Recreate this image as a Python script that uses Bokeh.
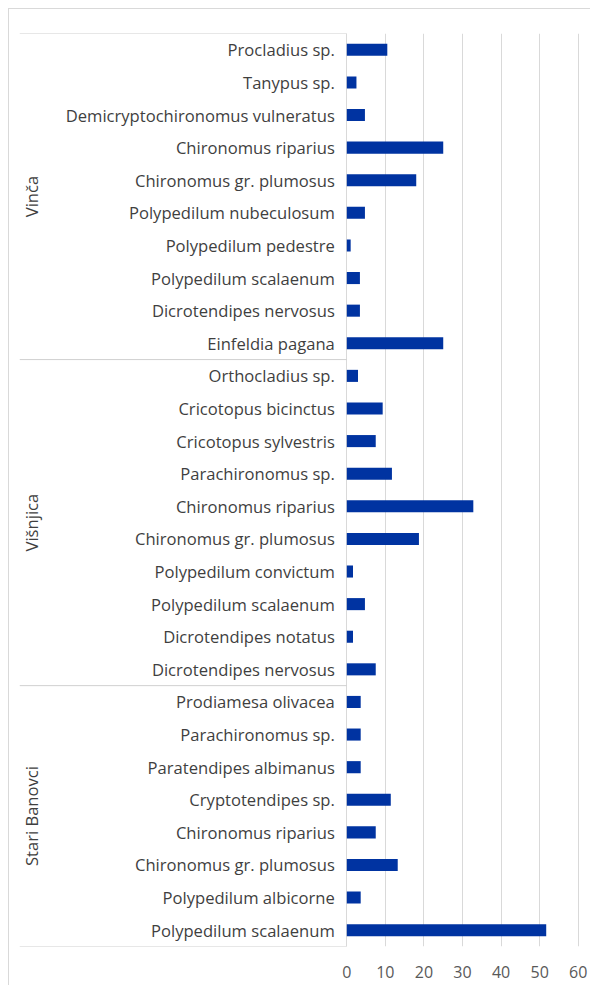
from bokeh.plotting import figure
from bokeh.models import FactorRange, Range1d, FixedTicker, ColumnDataSource
from bokeh.core.properties import value
from bokeh.embed import file_html
from bokeh.resources import INLINE
import math

# ---- data (top-to-bottom reading order) ----
sites = ["Vinča", "Višnjica", "Stari Banovci"]

vinca_species = ["Procladius sp.", "Tanypus sp.", "Demicryptochironomus vulneratus",
                 "Chironomus riparius", "Chironomus gr. plumosus", "Polypedilum nubeculosum",
                 "Polypedilum pedestre", "Polypedilum scalaenum", "Dicrotendipes nervosus",
                 "Einfeldia pagana"]
vinca_values = [10.5, 2.5, 4.7, 25, 18, 4.7, 1, 3.4, 3.4, 25]

visnjica_species = ["Orthocladius sp.", "Cricotopus bicinctus", "Cricotopus sylvestris",
                    "Parachironomus sp.", "Chironomus riparius", "Chironomus gr. plumosus",
                    "Polypedilum convictum", "Polypedilum scalaenum", "Dicrotendipes notatus",
                    "Dicrotendipes nervosus"]
visnjica_values = [2.9, 9.3, 7.5, 11.7, 32.8, 18.7, 1.6, 4.7, 1.6, 7.5]

banovci_species = ["Prodiamesa olivacea", "Parachironomus sp.", "Paratendipes albimanus",
                   "Cryptotendipes sp.", "Chironomus riparius", "Chironomus gr. plumosus",
                   "Polypedilum albicorne", "Polypedilum scalaenum"]
banovci_values = [3.6, 3.6, 3.6, 11.4, 7.5, 13.2, 3.6, 51.7]

x_ticks = [0, 10, 20, 30, 40, 50, 60]

# ---- build tables ----
groups = [(sites[0], vinca_species, vinca_values),
          (sites[1], visnjica_species, visnjica_values),
          (sites[2], banovci_species, banovci_values)]

factors, vals, names = [], [], []
for site, sp, v in groups:
    for s, val in zip(sp, v):
        factors.append((site, s))
        vals.append(val)
        names.append(s)

X0, X1 = -84.86, 63.44
FONT = "Open Sans"

p = figure(width=582, height=977, output_backend="svg", toolbar_location=None,
           y_range=FactorRange(factors=list(reversed(factors)), group_padding=0,
                               factor_padding=0, range_padding=0),
           x_range=Range1d(X0, X1),
           min_border_left=10, min_border_right=0, min_border_top=24, min_border_bottom=40)
p.margin = (8, 0, 0, 8)
p.styles = {"border-left": "1px solid #d9d9d9", "border-top": "1px solid #d9d9d9"}

p.outline_line_color = None
p.background_fill_color = "white"
p.border_fill_color = "white"

# grid
p.xaxis.ticker = FixedTicker(ticks=x_ticks)
p.xgrid.grid_line_color = "#d9d9d9"
p.xgrid.grid_line_width = 1
p.ygrid.grid_line_color = None

p.yaxis.visible = False
ax = p.xaxis[0]
ax.axis_line_color = None
ax.major_tick_line_color = None
ax.minor_tick_line_color = None
ax.major_label_text_font = FONT
ax.major_label_text_font_size = "16px"
ax.major_label_text_color = "#595959"
ax.major_label_standoff = 13

# bars
src = ColumnDataSource(dict(y=factors, v=vals, name=names))
p.hbar(y="y", left=0, right="v", height=0.37, source=src,
       fill_color="#0033a1", line_color=None)

# category labels
p.text(x=0, y="y", text="name", source=src, x_offset=-12,
       text_align="right", text_baseline="middle",
       text_font=value(FONT), text_font_size="16.6px", text_color="#3f3f3f")

# group labels
p.text(x=[X0] * 3, y=sites, text=sites, x_offset=12, angle=math.pi / 2,
       text_align="center", text_baseline="middle",
       text_font=value(FONT), text_font_size="16.6px", text_color="#3f3f3f")

# group box lines
bounds = [(sites[0], vinca_species[0], 0.5),
          (sites[0], vinca_species[-1], -0.5),
          (sites[1], visnjica_species[-1], -0.5),
          (sites[2], banovci_species[-1], -0.5)]
p.segment(x0=[X0] * 4, x1=[0] * 4, y0=bounds, y1=bounds,
          line_color="#d0d0d0", line_width=1)

open("out.html", "w").write(file_html(p, INLINE))
